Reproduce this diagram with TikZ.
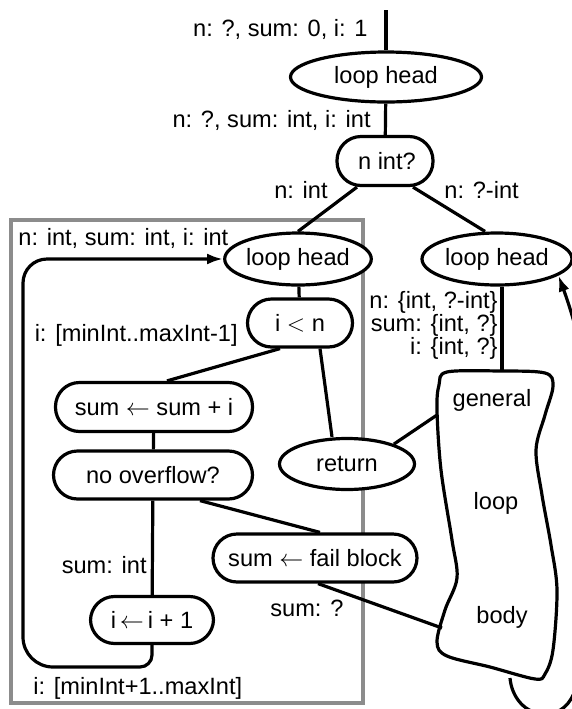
\documentclass[tikz,border=0pt]{standalone}
\usepackage{amsmath}
\usepackage{fontspec}
\setmainfont{Liberation Sans}
\usetikzlibrary{shapes.geometric,arrows.meta}

\tikzset{
	block/.style={draw, line width=1.6pt, fill=white, rounded corners=12pt, inner sep=0pt},
	head/.style={draw, ellipse, line width=1.6pt, fill=white, inner sep=0pt},
	lab/.style={inner sep=0pt},
	wire/.style={line width=1.6pt},
	back/.style={wire, -{Latex[length=8pt,width=5.5pt]}},
}

\begin{document}
\begin{tikzpicture}[x=0.5pt,y=0.5pt,font=\fontsize{11.8}{13}\selectfont]
	\useasboundingbox (0,0) rectangle (572,-709);

	\draw[line width=1.6pt, color=gray!90] (11,-220) rectangle (363,-703);

	\coordinate (top) at (386,-10);
	\coordinate (blobtop) at (502,-372);
	\coordinate (blobret) at (437,-415);
	\coordinate (blobfail) at (442,-628);
	\coordinate (blobbot) at (510,-678);

	\node[head, minimum width=95.5pt, minimum height=25pt] (lh1) at (386,-77) {loop head};
	\node[block, minimum width=48pt, minimum height=24.5pt] (nint) at (385,-161) {\,n int?};
	\node[head, minimum width=72.5pt, minimum height=26pt] (lhin) at (298,-259) {loop head};
	\node[head, minimum width=75pt, minimum height=26pt] (lhout) at (497,-259) {loop head};
	\node[block, minimum width=52.5pt, minimum height=24pt] (iltn) at (300,-323) {i $<$ n};
	\node[block, minimum width=98.5pt, minimum height=24.5pt] (sumadd) at (154,-407) {sum $\leftarrow$ sum + i};
	\node[block, minimum width=99.5pt, minimum height=24pt] (noovf) at (153,-475) {no overflow?};
	\node[block, minimum width=61.5pt, minimum height=23.5pt] (iinc) at (152,-620) {i\,$\leftarrow$\,i + 1};
	\node[block, minimum width=102pt, minimum height=24pt] (fail) at (315,-558) {sum $\leftarrow$ fail block};
	\node[head, minimum width=67.5pt, minimum height=25.5pt] (ret) at (347,-464) {return};

	\draw[wire] plot[smooth cycle, tension=0.55] coordinates {(447,-372) (500,-371) (545,-373) (553,-386) (545,-415) (536,-450) (542,-495) (551,-545) (557,-590) (553,-650) (545,-674) (535,-679) (490,-667) (447,-656) (437,-642) (445,-610) (457,-578) (452,-540) (441,-470) (437,-410) (439,-385)};
	\node (gen) at (492,-400) {general};
	\node (lp) at (496,-503) {loop};
	\node (bdy) at (502,-617) {body};

	\draw[wire] (top) -- (lh1);
	\draw[wire] (lh1) -- (nint);
	\draw[wire] ([xshift=-14pt]nint.south) -- (lhin.north);
	\draw[wire] ([xshift=14pt]nint.south) -- ([xshift=-6pt]lhout.north);
	\draw[wire] (lhin) -- (iltn);
	\draw[wire] ([xshift=-10pt]iltn.south) -- ([xshift=6.5pt]sumadd.north);
	\draw[wire] ([xshift=10pt]iltn.south) -- ([xshift=-7.5pt]ret.north);
	\draw[wire] (sumadd) -- (noovf);
	\draw[wire] (noovf) -- (iinc);
	\draw[wire] ([xshift=23.5pt]noovf.south) -- ([xshift=2.5pt]fail.north);
	\draw[wire] ([xshift=1.5pt]fail.south) -- (blobfail);
	\draw[wire] (ret.23) -- (blobret);
	\draw[wire] ([xshift=2.5pt]lhout.south) -- (blobtop);
	\draw[back] (iinc.south) [rounded corners=6pt] -- (152,-667) [rounded corners=15pt] -- (23,-667) [rounded corners=12pt] -- (23,-259) -- (lhin.west);
	\draw[back] (blobbot) to[out=-85,in=180] (545,-714) to[out=0,in=-90] (582,-640) to[out=90,in=-70] (lhout.-15);

	\node[lab, anchor=east] (l0) at (368,-29) {n: ?, sum: 0, i: 1};
	\node[lab, anchor=east] (l1) at (371,-120) {n: ?, sum: int, i: int};
	\node[lab, anchor=east] (lni) at (328,-190) {n: int};
	\node[lab, anchor=west] (lnq) at (444,-190) {n: ?-int};
	\node[lab, anchor=west] (lin) at (18,-238) {n: int, sum: int, i: int};
	\node[lab, anchor=east] (lilt) at (238,-335) {i: [minInt..maxInt-1]};
	\node[lab, anchor=east] (lsum) at (147,-565) {sum: int};
	\node[lab, anchor=west] (lfail) at (270,-608) {sum: ?};
	\node[lab, anchor=west] (linc) at (33,-688) {i: [minInt+1..maxInt]};
	\node[lab, anchor=east, align=right, font=\fontsize{11.8}{11.5}\selectfont] (lout) at (498,-325) {n: \{int, ?-int\}\\sum: \{int, ?\}\\i: \{int, ?\}};
\end{tikzpicture}
\end{document}
